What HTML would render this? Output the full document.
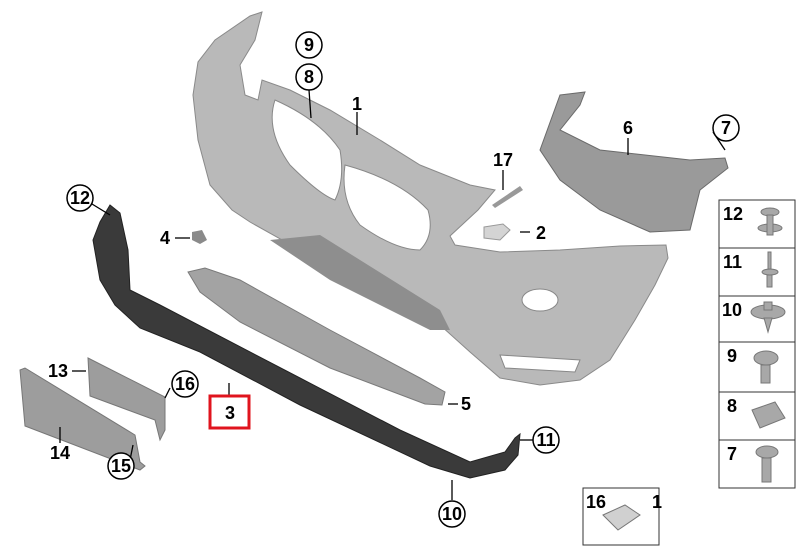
<!DOCTYPE html>
<html><head><meta charset="utf-8"><style>
html,body{margin:0;padding:0;background:#fff}
svg{display:block}
text{font-family:"Liberation Sans",sans-serif;font-weight:bold;fill:#000}
</style></head><body>
<svg width="800" height="560" viewBox="0 0 800 560" xmlns="http://www.w3.org/2000/svg">
<!-- main bumper -->
<path d="M262,12 L250,16 L215,40 L198,62 L193,95 L198,140 L210,185 L232,210 L250,222 L300,250 L340,275 L390,300 L440,325 L470,352 L500,378 L540,385 L580,380 L610,360 L635,320 L655,285 L668,258 L666,245 L620,246 L560,250 L500,252 L455,245 L450,236 L478,210 L495,190 L470,185 L420,165 L380,140 L330,110 L290,90 L262,80 L258,100 L245,95 L240,65 L255,40 Z" fill="#b9b9b9" stroke="#8a8a8a" stroke-width="1"/>
<path d="M275,100 Q265,130 290,165 Q320,195 335,200 Q345,180 340,150 Q320,120 275,100 Z" fill="#fff" stroke="#888"/>
<path d="M345,165 Q340,200 360,225 Q395,250 420,250 Q435,235 428,210 Q400,180 345,165 Z" fill="#fff" stroke="#888"/>
<path d="M270,240 L320,235 L440,310 L450,330 L430,330 L330,280 Z" fill="#8e8e8e"/>
<ellipse cx="540" cy="300" rx="18" ry="11" fill="#fff" stroke="#888"/>
<path d="M500,355 L580,360 L575,372 L505,368 Z" fill="#fff" stroke="#888"/>
<!-- part 6 bracket -->
<path d="M560,95 L585,92 L580,105 L560,130 L600,150 L690,160 L725,158 L728,168 L700,190 L690,230 L650,232 L600,210 L560,180 L540,150 Z" fill="#9a9a9a" stroke="#6a6a6a"/>
<path d="M492,205 L520,186 L523,190 L495,208 Z" fill="#999"/>
<path d="M484,227 L503,224 L510,230 L500,240 L484,238 Z" fill="#d4d4d4" stroke="#999"/>
<path d="M192,232 L202,230 L207,240 L200,244 L192,240 Z" fill="#8a8a8a"/>
<!-- part 5 strip -->
<path d="M188,272 L205,268 L240,280 L330,330 L420,378 L445,392 L442,405 L425,404 L330,368 L240,322 L200,292 Z" fill="#a3a3a3" stroke="#7a7a7a"/>
<!-- part 3 dark trim -->
<path d="M110,205 L120,213 L128,250 L130,290 L160,305 L300,378 L400,430 L470,462 L505,452 L515,438 L520,434 L518,455 L505,470 L470,478 L430,466 L300,405 L200,352 L140,328 L115,305 L100,280 L93,240 L100,222 Z" fill="#3a3a3a" stroke="#222"/>
<!-- plates -->
<path d="M20,370 L25,368 L135,435 L140,462 L145,466 L140,470 L25,426 Z" fill="#9d9d9d" stroke="#777"/>
<path d="M88,358 L165,397 L165,430 L160,440 L155,420 L90,396 Z" fill="#9d9d9d" stroke="#777"/>
<g stroke="#000" stroke-width="1.3" fill="none">
<line x1="309" y1="90" x2="311" y2="118"/>
<line x1="357" y1="112" x2="357" y2="135"/>
<line x1="628" y1="138" x2="628" y2="155"/>
<line x1="503" y1="170" x2="503" y2="190"/>
<line x1="520" y1="232" x2="530" y2="232"/>
<line x1="175" y1="238" x2="190" y2="238"/>
<line x1="92" y1="204" x2="110" y2="215"/>
<line x1="713" y1="132" x2="725" y2="150"/>
<line x1="72" y1="371" x2="86" y2="371"/>
<line x1="60" y1="427" x2="60" y2="443"/>
<line x1="170" y1="388" x2="165" y2="398"/>
<line x1="130" y1="460" x2="133" y2="445"/>
<line x1="229" y1="383" x2="229" y2="395"/>
<line x1="448" y1="404" x2="458" y2="404"/>
<line x1="452" y1="500" x2="452" y2="480"/>
<line x1="533" y1="440" x2="520" y2="440"/>
</g>
<g fill="#fff" stroke="#000" stroke-width="1.5">
<circle cx="309" cy="45" r="13"/><circle cx="309" cy="77" r="13"/>
<circle cx="726" cy="128" r="13"/><circle cx="80" cy="198" r="13"/>
<circle cx="185" cy="384" r="13"/><circle cx="121" cy="466" r="13"/>
<circle cx="452" cy="514" r="13"/><circle cx="546" cy="440" r="13"/>
</g>
<g font-size="18" text-anchor="middle">
<text x="309" y="51">9</text><text x="309" y="83">8</text>
<text x="726" y="134">7</text><text x="80" y="204">12</text>
<text x="185" y="390">16</text><text x="121" y="472">15</text>
<text x="452" y="520">10</text><text x="546" y="446">11</text>
<text x="357" y="110">1</text><text x="628" y="134">6</text>
<text x="503" y="166">17</text><text x="541" y="239">2</text>
<text x="165" y="244">4</text><text x="58" y="377">13</text>
<text x="60" y="459">14</text><text x="466" y="410">5</text>
<text x="230" y="419">3</text>
</g>
<rect x="210" y="396" width="39" height="32" fill="none" stroke="#e0141e" stroke-width="3"/>
<g stroke="#333" stroke-width="1" fill="#fff">
<rect x="719" y="200" width="76" height="48"/>
<rect x="719" y="248" width="76" height="48"/>
<rect x="719" y="296" width="76" height="46"/>
<rect x="719" y="342" width="76" height="50"/>
<rect x="719" y="392" width="76" height="48"/>
<rect x="719" y="440" width="76" height="48"/>
<rect x="583" y="488" width="76" height="57"/>
</g>
<g font-size="18">
<text x="723" y="220">12</text><text x="723" y="268">11</text>
<text x="722" y="316">10</text><text x="727" y="362">9</text>
<text x="727" y="412">8</text><text x="727" y="460">7</text>
<text x="586" y="508">16</text><text x="652" y="508">1</text>
</g>
<g fill="#a8a8a8" stroke="#777">
<ellipse cx="770" cy="212" rx="9" ry="4"/><ellipse cx="770" cy="228" rx="12" ry="4"/><rect x="767" y="215" width="6" height="20"/>
<rect x="768" y="252" width="3" height="20"/><ellipse cx="770" cy="272" rx="8" ry="3"/><rect x="767" y="275" width="5" height="12"/>
<ellipse cx="768" cy="312" rx="17" ry="7"/><rect x="764" y="302" width="8" height="8"/><path d="M764,318 L772,318 L768,332 Z"/>
<ellipse cx="766" cy="358" rx="12" ry="7"/><rect x="761" y="365" width="9" height="18"/>
<path d="M752,410 L775,402 L785,418 L760,428 Z"/>
<ellipse cx="767" cy="452" rx="11" ry="6"/><rect x="762" y="458" width="9" height="24"/>
<path d="M603,515 L625,505 L640,515 L618,530 Z" fill="#d0d0d0"/>
</g>
</svg>
</body></html>
